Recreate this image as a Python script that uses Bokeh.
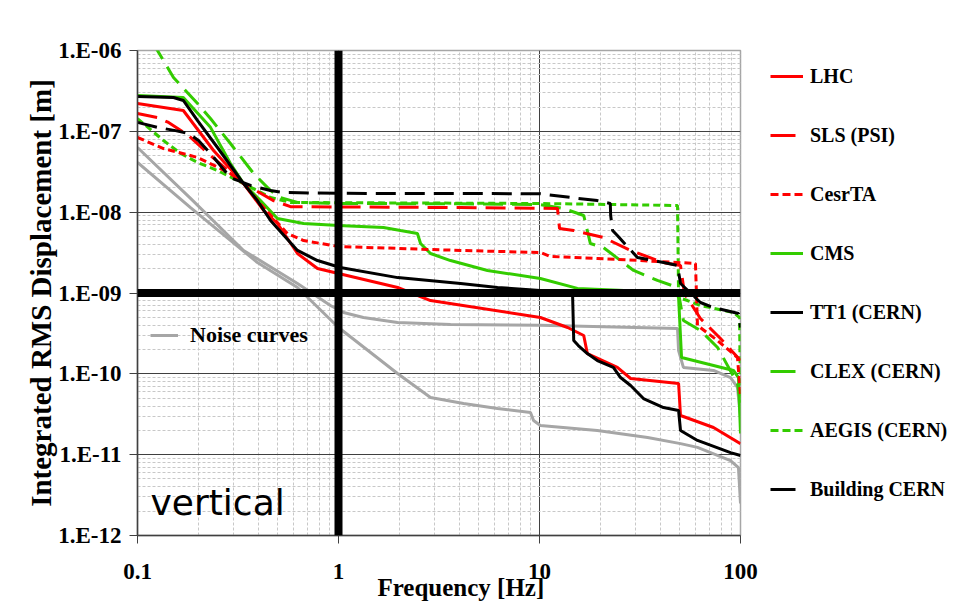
from bokeh.plotting import figure
from bokeh.layouts import row
from bokeh.models import Range1d, FixedTicker, Span, Label, Legend, LegendItem
from bokeh.embed import file_html
from bokeh.resources import INLINE

RED = "#FF0000"
GREEN = "#33CC00"
GREY = "#A6A6A6"
BLACK = "#000000"

x_ticks = [0.1, 1, 10, 100]
x_tick_labels = ["0.1", "1", "10", "100"]
y_ticks = [1e-12, 1e-11, 1e-10, 1e-9, 1e-8, 1e-7, 1e-6]
y_tick_labels = ["1.E-12", "1.E-11", "1.E-10", "1.E-09", "1.E-08", "1.E-07", "1.E-06"]

lhc_f = [0.1, 0.169, 0.239, 0.337, 0.424, 0.497, 0.625, 0.786, 1.0, 1.97, 2.87, 10.1, 13.8, 16.6, 17.3, 24.4, 28.4, 49.2, 50.3, 73.4, 100]
lhc_v = [2.21e-7, 1.81e-7, 5.79e-8, 2.26e-8, 1.05e-8, 7.24e-9, 3.08e-9, 2.01e-9, 1.74e-9, 1.17e-9, 8.07e-10, 4.98e-10, 3.74e-10, 2.98e-10, 1.78e-10, 1.20e-10, 8.75e-11, 7.59e-11, 3.05e-11, 2.17e-11, 1.37e-11]

sls_f = [0.1, 0.1257, 0.1427, 0.1794, 0.2307, 0.337, 0.475, 0.577, 1.0, 4.05, 12.29, 12.58, 14.8, 20.8, 28.4, 41.4, 50.3, 52.6, 63.2, 79.5, 100]
sls_v = [1.66e-7, 1.48e-7, 1.29e-7, 8.88e-8, 5.02e-8, 2.26e-8, 1.39e-8, 1.17e-8, 1.16e-8, 1.14e-8, 1.11e-8, 6.28e-9, 5.93e-9, 4.86e-9, 3.36e-9, 2.38e-9, 2.19e-9, 9.86e-10, 4.83e-10, 2.74e-10, 1.46e-10]

cesr_f = [0.1, 0.1347, 0.199, 0.290, 0.337, 0.424, 0.557, 0.670, 1.0, 4.05, 10.1, 11.34, 19.4, 31.8, 59.7, 61.1, 76.9, 96.6, 100]
cesr_v = [8.39e-8, 6.13e-8, 4.75e-8, 3.01e-8, 2.26e-8, 1.14e-8, 5.45e-9, 4.46e-9, 3.76e-9, 3.36e-9, 3.17e-9, 2.83e-9, 2.67e-9, 2.52e-9, 2.32e-9, 3.96e-10, 2.58e-10, 1.59e-10, 5.39e-11]

cms_f = [0.1, 0.169, 0.2307, 0.290, 0.337, 0.409, 0.497, 0.670, 1.0, 1.674, 2.035, 2.47, 2.56, 2.87, 3.61, 5.51, 10.1, 15.45, 48.0, 49.2, 50.9, 92.3, 97.7, 100]
cms_v = [2.78e-7, 2.62e-7, 1.12e-7, 4.0e-8, 2.26e-8, 1.39e-8, 8.35e-9, 7.24e-9, 6.84e-9, 6.46e-9, 5.93e-9, 5.45e-9, 4.10e-9, 3.08e-9, 2.52e-9, 1.90e-9, 1.51e-9, 1.14e-9, 1.01e-9, 8.79e-10, 1.59e-10, 1.10e-10, 9.0e-11, 1.83e-11]

tt1_f = [0.1, 0.151, 0.169, 0.199, 0.25, 0.337, 0.395, 0.459, 0.625, 0.786, 1.02, 1.97, 4.05, 6.18, 14.6, 14.8, 15.6, 17.3, 19.4, 23.3, 25.3, 28.4, 32.9, 41.4, 49.2, 50.3, 61.1, 89.2, 100]
tt1_v = [2.70e-7, 2.62e-7, 2.41e-7, 1.36e-7, 6.31e-8, 2.26e-8, 1.39e-8, 7.88e-9, 3.36e-9, 2.52e-9, 2.07e-9, 1.55e-9, 1.31e-9, 1.17e-9, 1.01e-9, 2.58e-10, 2.24e-10, 1.78e-10, 1.46e-10, 1.20e-10, 9.0e-11, 7.17e-11, 4.95e-11, 3.83e-11, 3.52e-11, 1.99e-11, 1.50e-11, 1.06e-11, 9.76e-12]

clex_f = [0.1, 0.1257, 0.151, 0.199, 0.2307, 0.290, 0.378, 0.459, 0.514, 0.625, 1.0, 4.05, 10.1, 13.2, 16.6, 17.9, 20.8, 29.4, 38.6, 48.6, 52.0, 63.2, 76.9, 96.6, 100]
clex_v = [2.6e-6, 1.0e-6, 4.63e-7, 2.21e-7, 1.44e-7, 7.07e-8, 3.01e-8, 1.85e-8, 1.52e-8, 1.32e-8, 1.28e-8, 1.27e-8, 1.24e-8, 1.11e-8, 9.1e-9, 4.10e-9, 3.65e-9, 1.90e-9, 1.43e-9, 1.17e-9, 4.57e-10, 3.44e-10, 2.12e-10, 7.59e-11, 4.29e-11]

aegis_f = [0.1, 0.1347, 0.1637, 0.199, 0.25, 0.337, 0.459, 0.577, 1.0, 10.1, 48.6, 49.2, 54.5, 63.2, 92.3, 98.9, 100]
aegis_v = [1.44e-7, 7.70e-8, 5.32e-8, 4.12e-8, 3.28e-8, 2.26e-8, 1.52e-8, 1.32e-8, 1.31e-8, 1.28e-8, 1.21e-8, 8.79e-10, 8.07e-10, 7.0e-10, 5.74e-10, 4.98e-10, 4.5e-11]

bldg_f = [0.1, 0.1257, 0.1545, 0.1794, 0.201, 0.2307, 0.290, 0.365, 0.459, 0.532, 1.0, 4.05, 10.1, 14.3, 19.4, 22.5, 22.6, 23.1, 24.4, 30.7, 41.4, 48.6, 50.3, 63.2, 73.4, 97.7, 100]
bldg_v = [1.29e-7, 1.12e-7, 1.02e-7, 9.4e-8, 7.70e-8, 5.32e-8, 2.68e-8, 2.14e-8, 1.85e-8, 1.75e-8, 1.71e-8, 1.70e-8, 1.69e-8, 1.52e-8, 1.39e-8, 1.28e-8, 9.1e-9, 5.93e-9, 5.14e-9, 2.75e-9, 2.38e-9, 2.19e-9, 1.31e-9, 7.63e-10, 6.61e-10, 5.57e-10, 3.74e-10]

noise1_f = [0.1, 0.1836, 0.337, 0.625, 0.912, 1.06, 1.33, 1.966, 3.61, 10.1, 48.6, 49.2, 52.0, 73.4, 89.2, 96.6, 100]
noise1_v = [6.31e-8, 1.48e-8, 3.36e-9, 1.31e-9, 7.0e-10, 5.74e-10, 4.98e-10, 4.31e-10, 4.07e-10, 4.0e-10, 3.64e-10, 1.94e-10, 1.20e-10, 1.10e-10, 9.0e-11, 6.78e-11, 2.88e-11]

noise2_f = [0.1, 0.1836, 0.395, 0.625, 1.0, 1.966, 2.87, 4.19, 6.18, 9.02, 9.34, 10.1, 19.4, 34.5, 50.3, 61.1, 89.2, 97.7, 100]
noise2_v = [4.12e-8, 1.14e-8, 2.38e-9, 1.17e-9, 3.74e-10, 1.01e-10, 5.09e-11, 4.29e-11, 3.72e-11, 3.32e-11, 2.64e-11, 2.30e-11, 1.99e-11, 1.63e-11, 1.37e-11, 1.23e-11, 8.46e-12, 6.93e-12, 2.49e-12]

series_names = ["LHC", "SLS (PSI)", "CesrTA", "CMS", "TT1 (CERN)", "CLEX (CERN)", "AEGIS (CERN)", "Building CERN"]

x_minor = [m * 10.0 ** e for e in (-1, 0, 1) for m in range(2, 10)]
y_minor = [m * 10.0 ** e for e in range(-12, -6) for m in range(2, 10)]

LONG = "20 9"
SHORT = "7 4"
KEY_LONG = "25 15"
KEY_SHORT = "8 4"
W = 3
key_styles = [
    (RED, "solid"), (RED, KEY_LONG), (RED, KEY_SHORT), (GREEN, "solid"),
    (BLACK, "solid"), (GREEN, KEY_LONG), (GREEN, KEY_SHORT), (BLACK, KEY_LONG),
]

p = figure(width=762, height=607, x_axis_type="log", y_axis_type="log",
           x_range=Range1d(0.1, 100), y_range=Range1d(1e-12, 1e-6),
           output_backend="svg", toolbar_location=None,
           min_border_left=137, min_border_right=22, min_border_top=50, min_border_bottom=72)
p.background_fill_color = "white"
p.border_fill_color = "white"
p.outline_line_color = "#A6A6A6"
p.outline_line_width = 1.5

xt = FixedTicker(ticks=x_ticks, minor_ticks=x_minor)
yt = FixedTicker(ticks=y_ticks, minor_ticks=y_minor)
p.xaxis.ticker = xt
p.yaxis.ticker = yt
p.xgrid.ticker = xt
p.ygrid.ticker = yt
p.xaxis.major_label_overrides = {t: s for t, s in zip(x_ticks, x_tick_labels)}
p.yaxis.major_label_overrides = {t: s for t, s in zip(y_ticks, y_tick_labels)}

for ax in (p.xaxis, p.yaxis):
    ax.major_label_text_font = "Liberation Serif"
    ax.major_label_text_font_style = "bold"
    ax.major_label_text_font_size = "23px"
    ax.major_label_text_color = "black"
    ax.axis_line_color = "#404040"
    ax.axis_line_width = 1.5
    ax.major_tick_line_color = "#404040"
    ax.major_tick_in = 0
    ax.major_tick_out = 8
    ax.minor_tick_line_color = None
    ax.axis_label_text_font = "Liberation Serif"
    ax.axis_label_text_font_style = "bold"
    ax.axis_label_text_color = "black"
p.xaxis.major_label_standoff = 20
p.yaxis.major_label_standoff = 8
p.xaxis.axis_label = "\u00a0" * 7 + "Frequency [Hz]"
p.xaxis.axis_label_text_font_size = "25px"
p.xaxis.axis_label_standoff = -8
p.yaxis.axis_label = "Integrated RMS Displacement [m]"
p.yaxis.axis_label_text_font_size = "29px"
p.yaxis.axis_label_standoff = -2

for g in (p.xgrid, p.ygrid):
    g.grid_line_color = "#404040"
    g.grid_line_width = 1
    g.minor_grid_line_color = "#C8C8C8"
    g.minor_grid_line_dash = "3 2"
    g.minor_grid_line_width = 1

r_n1 = p.line(noise1_f, noise1_v, line_color=GREY, line_width=W)
r_n2 = p.line(noise2_f, noise2_v, line_color=GREY, line_width=W)
p.line(aegis_f, aegis_v, line_color=GREEN, line_width=W, line_dash=SHORT)
p.line(clex_f, clex_v, line_color=GREEN, line_width=W, line_dash=LONG)
p.line(cms_f, cms_v, line_color=GREEN, line_width=W)
p.line(cesr_f, cesr_v, line_color=RED, line_width=W, line_dash=SHORT)
p.line(sls_f, sls_v, line_color=RED, line_width=W, line_dash=LONG)
p.line(lhc_f, lhc_v, line_color=RED, line_width=W)
p.line(bldg_f, bldg_v, line_color=BLACK, line_width=W, line_dash=LONG)
p.line(tt1_f, tt1_v, line_color=BLACK, line_width=W)

p.add_layout(Span(location=1, dimension="height", line_color="black", line_width=8))
p.add_layout(Span(location=1e-9, dimension="width", line_color="black", line_width=8))

noise_legend = Legend(items=[LegendItem(label="Noise curves", renderers=[r_n1])],
                      location=(13, 187), glyph_width=28, glyph_height=24, label_height=24,
                      label_standoff=12, padding=0, margin=0, border_line_alpha=0,
                      background_fill_alpha=0, label_text_font="Liberation Serif",
                      label_text_font_style="bold", label_text_font_size="22px",
                      label_text_color="black")
p.add_layout(noise_legend)

p.add_layout(Label(x=13, y=13, x_units="screen", y_units="screen", text="vertical",
                   text_font="DejaVu Sans", text_font_size="36px", text_color="black"))

# legend panel on the right (key lines only, kept outside the visible range)
q = figure(width=206, height=607, x_range=Range1d(0, 1), y_range=Range1d(0, 1),
           output_backend="svg", toolbar_location=None, min_border=0,
           x_axis_location=None, y_axis_location=None)
q.grid.visible = False
q.outline_line_color = None
q.background_fill_color = "white"
q.border_fill_color = "white"
key_x = [2, 3]
key_y = [2, 2]
items = []
for name, (col, dash) in zip(series_names, key_styles):
    r = q.line(key_x, key_y, line_color=col, line_width=W, line_dash=dash)
    items.append(LegendItem(label=name, renderers=[r]))
legend = Legend(items=items, location=(8, 34), glyph_width=33, glyph_height=24,
                label_height=24, spacing=35, label_standoff=7, padding=0, margin=0,
                border_line_alpha=0, background_fill_alpha=0,
                label_text_font="Liberation Serif", label_text_font_style="bold",
                label_text_font_size="20px", label_text_color="black")
q.add_layout(legend)

open("out.html", "w").write(file_html(row(p, q), INLINE))
